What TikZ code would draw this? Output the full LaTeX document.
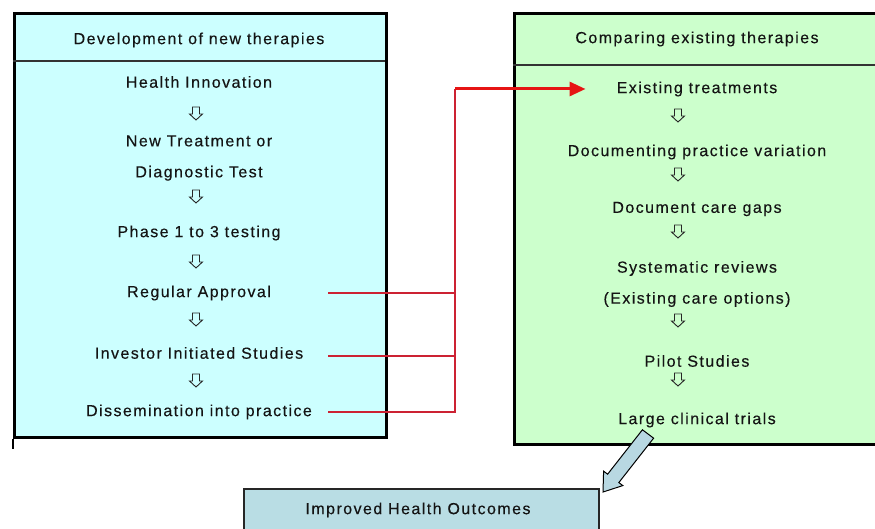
\documentclass[tikz,border=0pt]{standalone}
\usepackage{fontspec}
\setmainfont{Liberation Sans}[LetterSpace=9,FakeBold=0.3]
\usetikzlibrary{arrows.meta}
\definecolor{cyanfill}{RGB}{204,255,255}
\definecolor{greenfill}{RGB}{204,255,204}
\definecolor{outfill}{RGB}{185,221,228}
\definecolor{bigarrowfill}{RGB}{184,216,226}
\definecolor{thinred}{RGB}{204,34,51}
\definecolor{thickred}{RGB}{230,20,20}
\definecolor{txt}{RGB}{20,20,20}
\tikzset{
  panel/.style={draw=black, line width=2.6pt, inner sep=0pt, anchor=north west},
  sepline/.style={draw=black!80, line width=1.2pt},
  item/.style={font=\fontsize{16}{31}\selectfont, text=txt, inner sep=0pt, align=center},
  redthin/.style={draw=thinred, line width=1.3pt},
  redthick/.style={draw=thickred, line width=3pt},
  dnarrow/.pic={\draw[black!85, line width=0.9pt, line join=miter]
     (-3.5,-6) -- (3.5,-6) -- (3.5,1) -- (6.5,1) -- (0,7) -- (-6.5,1) -- (-3.5,1) -- cycle;}
}
\begin{document}
\begin{tikzpicture}[x=1pt,y=-1pt]
\useasboundingbox (0,0) rectangle (875,529);
\fill[white] (0,0) rectangle (875,529);
\begin{scope}
\clip (0,0) rectangle (875,529);
% left panel
\node[panel, fill=cyanfill, minimum width=372pt, minimum height=424pt] (lb) at (13,12) {};
\draw[black, line width=2.6pt] (lb.south west) -- ++(0,10);
\draw[sepline] (13,61) -- (385,61);
\node[item] (lh) at (199,40) {Development of new therapies};
\node[item] (l1) at (199,82) {Health Innovation};
\pic at (196,113) {dnarrow};
\node[item] (l2) at (199,158) {New Treatment or\\Diagnostic Test};
\pic at (196,196) {dnarrow};
\node[item] (l3) at (199,233) {Phase 1 to 3 testing};
\pic at (196,261) {dnarrow};
\node[item] (ra) at (199,293) {Regular Approval};
\pic at (196,319) {dnarrow};
\node[item] (inv) at (199,353) {Investor Initiated Studies};
\pic at (196,380) {dnarrow};
\node[item] (dis) at (199,412) {Dissemination into practice};
% right panel
\node[panel, fill=greenfill, minimum width=372pt, minimum height=431pt] (rb) at (513,12) {};
\draw[sepline] (513,65) -- (885,65);
\node[item] (rh) at (697,39) {Comparing existing therapies};
\node[item] (et) at (697,89) {Existing treatments};
\pic at (678,115) {dnarrow};
\node[item] (dpv) at (697,152) {Documenting practice variation};
\pic at (678,174) {dnarrow};
\node[item] (dcg) at (697,209) {Document care gaps};
\pic at (678,231) {dnarrow};
\node[item] (sr) at (697,284) {Systematic reviews\\(Existing care options)};
\pic at (678,320) {dnarrow};
\node[item] (ps) at (697,361) {Pilot Studies};
\pic at (678,379) {dnarrow};
\node[item] (lct) at (697,420) {Large clinical trials};
% outcome box
\node[draw=black!85, line width=1.5pt, fill=outfill, anchor=north west, minimum width=355pt, minimum height=70pt, inner sep=0pt] (ob) at (243,488) {};
\node[item] (out) at (418,510) {Improved Health Outcomes};
% red connectors
\coordinate (s1) at (328,293);
\coordinate (s2) at (328,356);
\coordinate (s3) at (328,412);
\coordinate (j) at (455,89);
\draw[redthin] (s1) -- (s1 -| j);
\draw[redthin] (s2) -- (s2 -| j);
\draw[redthin] (s3) -- (s3 -| j) -- (j);
\draw[redthick, -{Triangle[length=16pt,width=14pt]}] (j) -- ([xshift=-31pt]et.west);
% big block arrow from Large clinical trials to outcome box
\draw[black, line width=1pt, fill=bigarrowfill, line join=miter]
  (653.6,438.2) -- (618.8,482.6) -- (622.8,485.6) -- (603,492)
  -- (603.6,471.2) -- (607.6,474.2) -- (642.4,429.8) -- cycle;
\end{scope}
\end{tikzpicture}
\end{document}
